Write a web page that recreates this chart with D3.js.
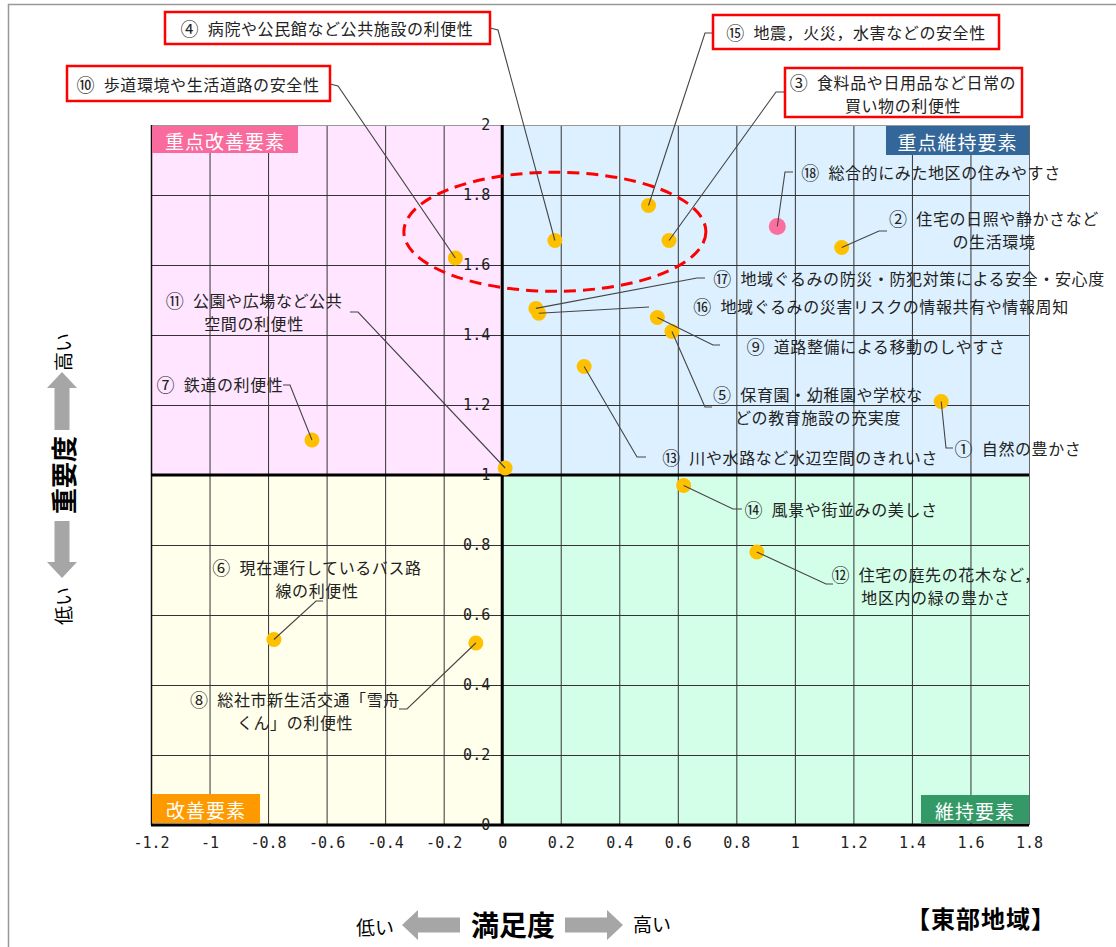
<!DOCTYPE html>
<meta charset="utf-8">
<style>
  body { margin: 0; background: #fff; }
  text { font-family: "Noto Sans CJK JP", sans-serif; }
  .tick text { font-family: "DejaVu Sans Mono", monospace; font-size: 15px; fill: #222; }
  .item-label { font-size: 16px; letter-spacing: 0.6px; fill: #222; }
  .item-label .no { font-size: 18px; }
  .leader { stroke: #444; stroke-width: 1.1px; fill: none; }
  .tag text { fill: #fff; font-size: 19px; letter-spacing: 1px; }
</style>

<script src="https://d3js.org/d3.v7.min.js"></script>

<div id="chart"></div>
<script>

// ---- data ----
const circled = ["①","②","③","④","⑤","⑥","⑦","⑧","⑨","⑩","⑪","⑫","⑬","⑭","⑮","⑯","⑰","⑱"];
const itemNames = [
  "自然の豊かさ",
  "住宅の日照や静かさなど\nの生活環境",
  "食料品や日用品など日常の\n買い物の利便性",
  "病院や公民館など公共施設の利便性",
  "保育園・幼稚園や学校な\nどの教育施設の充実度",
  "現在運行しているバス路\n線の利便性",
  "鉄道の利便性",
  "総社市新生活交通「雪舟\nくん」の利便性",
  "道路整備による移動のしやすさ",
  "歩道環境や生活道路の安全性",
  "公園や広場など公共\n空間の利便性",
  "住宅の庭先の花木など，\n地区内の緑の豊かさ",
  "川や水路など水辺空間のきれいさ",
  "風景や街並みの美しさ",
  "地震，火災，水害などの安全性",
  "地域ぐるみの災害リスクの情報共有や情報周知",
  "地域ぐるみの防災・防犯対策による安全・安心度",
  "総合的にみた地区の住みやすさ"
];
// 満足度 (x) and 重要度 (y)
const satisfaction = [1.50, 1.16, 0.57, 0.18, 0.58, -0.78, -0.65, -0.09, 0.53, -0.16, 0.01, 0.87, 0.28, 0.62, 0.50, 0.125, 0.115, 0.94];
const importance   = [1.21, 1.65, 1.67, 1.67, 1.41, 0.53, 1.10, 0.52, 1.45, 1.62, 1.02, 0.78, 1.31, 0.97, 1.77, 1.462, 1.476, 1.71];

const xTicks = [-1.2, -1, -0.8, -0.6, -0.4, -0.2, 0, 0.2, 0.4, 0.6, 0.8, 1, 1.2, 1.4, 1.6, 1.8];
const yTicks = [0, 0.2, 0.4, 0.6, 0.8, 1, 1.2, 1.4, 1.6, 1.8, 2];

const quadNames = ["重点改善要素", "重点維持要素", "改善要素", "維持要素"];
// highlighted group (ellipse): center and radii in data units
const highlight = { cx: 0.18, cy: 1.695, rx: 0.516, ry: 0.170 };

// ---- layout / style ----
const W = 1116, H = 947;
const quadFill = ["#FFE5FF", "#DCF0FF", "#FFFFEB", "#D3FFE8"];
const tagFill  = ["#F96B9C", "#336699", "#FF9900", "#339966"];
const lineGap = 23;

// label placement (pixels): center x, first line y, leader elbow/end, optional red box
const labelPos = [
  { x: 1018, y: 448, elbow: [946, 448], end: [953, 448] },
  { x: 994,  y: 218, elbow: [879, 231], end: [887, 231] },
  { x: 903,  y: 82,  elbow: [776, 92],  end: [785, 92],  box: [785, 68, 1022, 117] },
  { x: 327,  y: 28,  elbow: [498, 30],  end: [490, 28],  box: [165, 12, 490, 44] },
  { x: 818,  y: 394, elbow: [705, 407], end: [712, 407] },
  { x: 317,  y: 567, elbow: [316, 601], end: [323, 601] },
  { x: 220,  y: 384, elbow: [290, 385], end: [283, 385] },
  { x: 295,  y: 699, elbow: [407, 709], end: [399, 709] },
  { x: 876,  y: 346, elbow: [713, 345], end: [720, 345] },
  { x: 198,  y: 84,  elbow: [338, 86],  end: [330, 84],  box: [67, 66, 330, 101] },
  { x: 254,  y: 300, elbow: [358, 312], end: [350, 312] },
  { x: 936,  y: 574, elbow: [826, 584], end: [833, 584] },
  { x: 800,  y: 457, elbow: [637, 457], end: [646, 457] },
  { x: 841,  y: 509, elbow: [733, 509], end: [742, 509] },
  { x: 856,  y: 32,  elbow: [705, 33],  end: [713, 33],  box: [713, 15, 999, 49] },
  { x: 881,  y: 306, elbow: [649, 307], end: [649, 307] },
  { x: 909,  y: 278, elbow: [697, 278], end: [705, 278] },
  { x: 931,  y: 172, elbow: [785, 172], end: [793, 172] }
];

const svg = d3.select("#chart")
  .append("svg")
    .attr("width", W)
    .attr("height", H);

// outer frame
svg.append("rect")
  .attr("x", 8.5).attr("y", 4.5)
  .attr("width", 1200).attr("height", 1200)
  .attr("fill", "none")
  .attr("stroke", "#999")
  .attr("stroke-width", 1.5);

const x = d3.scaleLinear().domain([-1.2, 1.8]).range([151, 1029]);
const y = d3.scaleLinear().domain([0, 2]).range([825, 125]);

// quadrant backgrounds
const quads = [
  [-1.2, 0, 1, 2], [0, 1.8, 1, 2], [-1.2, 0, 0, 1], [0, 1.8, 0, 1]
];
svg.append("g")
  .selectAll("rect")
  .data(quads)
  .join("rect")
    .attr("x", d => x(d[0]))
    .attr("y", d => y(d[3]))
    .attr("width", d => x(d[1]) - x(d[0]))
    .attr("height", d => y(d[2]) - y(d[3]))
    .attr("fill", (d, i) => quadFill[i]);

// grid
const grid = svg.append("g").attr("stroke", "#333").attr("stroke-width", 1);
grid.selectAll(".vx")
  .data(xTicks.slice(1, -1))
  .join("line")
    .attr("x1", d => x(d) + 0.5).attr("x2", d => x(d) + 0.5)
    .attr("y1", y(2)).attr("y2", y(0));
grid.selectAll(".hy")
  .data(yTicks.slice(1, -1))
  .join("line")
    .attr("y1", d => y(d) + 0.5).attr("y2", d => y(d) + 0.5)
    .attr("x1", x(-1.2)).attr("x2", x(1.8));

// frame of the plot
svg.append("line").attr("x1", x(-1.2)).attr("x2", x(1.8)).attr("y1", y(2) + 0.5).attr("y2", y(2) + 0.5)
  .attr("stroke", "#999");
svg.append("line").attr("x1", x(1.8) + 0.5).attr("x2", x(1.8) + 0.5).attr("y1", y(2)).attr("y2", y(0))
  .attr("stroke", "#666");
svg.append("line").attr("x1", x(-1.2) + 0.5).attr("x2", x(-1.2) + 0.5).attr("y1", y(2)).attr("y2", y(0))
  .attr("stroke", "#111").attr("stroke-width", 1.5);
svg.append("line").attr("x1", x(-1.2)).attr("x2", x(1.8)).attr("y1", y(0)).attr("y2", y(0))
  .attr("stroke", "#000").attr("stroke-width", 3);
// centre cross
svg.append("line").attr("x1", x(0)).attr("x2", x(0)).attr("y1", y(2)).attr("y2", y(0))
  .attr("stroke", "#000").attr("stroke-width", 3);
svg.append("line").attr("x1", x(-1.2)).attr("x2", x(1.8)).attr("y1", y(1)).attr("y2", y(1))
  .attr("stroke", "#000").attr("stroke-width", 3);

// axes (labels only)
svg.append("g")
  .attr("transform", `translate(0,${y(0)})`)
  .call(d3.axisBottom(x).tickValues(xTicks).tickFormat(d => String(d)).tickSize(0).tickPadding(12))
  .call(g => g.select(".domain").remove());

svg.append("g")
  .attr("transform", `translate(${x(0)},0)`)
  .call(d3.axisLeft(y).tickValues(yTicks).tickFormat(d => String(d)).tickSize(0).tickPadding(12))
  .call(g => g.select(".domain").remove());

// quadrant tags
const tagBox = [
  { x: x(-1.2) + 1, y: y(2) + 1, w: 146, h: 27 },
  { x: x(1.8) - 143, y: y(2) + 1, w: 143, h: 29 },
  { x: x(-1.2) + 1, y: y(0) - 31, w: 108, h: 29 },
  { x: x(1.8) - 108, y: y(0) - 30, w: 108, h: 28 }
];
const tags = svg.append("g").attr("class", "tag")
  .selectAll("g")
  .data(quadNames)
  .join("g");
tags.append("rect")
  .attr("x", (d, i) => tagBox[i].x)
  .attr("y", (d, i) => tagBox[i].y)
  .attr("width", (d, i) => tagBox[i].w)
  .attr("height", (d, i) => tagBox[i].h)
  .attr("fill", (d, i) => tagFill[i]);
tags.append("text")
  .attr("x", (d, i) => tagBox[i].x + tagBox[i].w / 2)
  .attr("y", (d, i) => tagBox[i].y + tagBox[i].h / 2 + 1)
  .attr("text-anchor", "middle")
  .attr("dominant-baseline", "central")
  .text(d => d);

// highlight ellipse
svg.append("ellipse")
  .attr("cx", x(highlight.cx))
  .attr("cy", y(highlight.cy))
  .attr("rx", x(highlight.rx) - x(0))
  .attr("ry", y(0) - y(highlight.ry))
  .attr("fill", "none")
  .attr("stroke", "#FF0000")
  .attr("stroke-width", 3)
  .attr("stroke-dasharray", "12,7");

// points
const items = itemNames.map((name, i) => ({
  no: circled[i], name, sx: satisfaction[i], iy: importance[i], pos: labelPos[i], last: i === itemNames.length - 1
}));

svg.append("g")
  .selectAll("circle")
  .data(items)
  .join("circle")
    .attr("cx", d => x(d.sx))
    .attr("cy", d => y(d.iy))
    .attr("r", d => d.last ? 8.5 : 7.5)
    .attr("fill", d => d.last ? "#FB6E9E" : "#FFC000");

// leader lines
const line = d3.line();
svg.append("g")
  .selectAll("path")
  .data(items)
  .join("path")
    .attr("class", "leader")
    .attr("d", d => line([[x(d.sx), y(d.iy)], d.pos.elbow, d.pos.end]));

// red boxes
svg.append("g")
  .selectAll("rect")
  .data(items.filter(d => d.pos.box))
  .join("rect")
    .attr("x", d => d.pos.box[0])
    .attr("y", d => d.pos.box[1])
    .attr("width", d => d.pos.box[2] - d.pos.box[0])
    .attr("height", d => d.pos.box[3] - d.pos.box[1])
    .attr("fill", "#fff")
    .attr("stroke", "#FF0000")
    .attr("stroke-width", 2.5);

// item labels, one text per line (number only on the first line)
const labelLines = [];
items.forEach(d => {
  d.name.split("\n").forEach((t, k) => {
    labelLines.push({ no: k === 0 ? d.no : null, t, x: d.pos.x, y: d.pos.y + k * lineGap });
  });
});
const lt = svg.append("g")
  .selectAll("text")
  .data(labelLines)
  .join("text")
    .attr("class", "item-label")
    .attr("text-anchor", "middle")
    .attr("dominant-baseline", "central")
    .attr("x", d => d.x)
    .attr("y", d => d.y);
lt.filter(d => d.no).append("tspan").attr("class", "no").text(d => d.no);
lt.append("tspan").text(d => (d.no ? "\u2002" : "") + d.t);

// ---- axis titles ----
function arrow(g, len, head, shaft, headW) {
  // arrow pointing right from 0 to len, centred on 0
  g.append("path")
    .attr("d", `M0,${-shaft/2} L${len-head},${-shaft/2} L${len-head},${-headW/2} L${len},0 L${len-head},${headW/2} L${len-head},${shaft/2} L0,${shaft/2} Z`)
    .attr("fill", "#A6A6A6");
}

// x title
arrow(svg.append("g").attr("transform", "translate(460,925) scale(-1,1)"), 58, 16, 15, 30);
arrow(svg.append("g").attr("transform", "translate(565,925)"), 58, 16, 15, 30);
svg.append("text").attr("x", 513).attr("y", 924).attr("text-anchor", "middle").attr("dominant-baseline", "central")
  .style("font-size", "28px").style("font-weight", "bold").text("満足度");
svg.append("text").attr("x", 375).attr("y", 926).attr("text-anchor", "middle").attr("dominant-baseline", "central")
  .style("font-size", "19px").text("低い");
svg.append("text").attr("x", 652).attr("y", 923).attr("text-anchor", "middle").attr("dominant-baseline", "central")
  .style("font-size", "19px").text("高い");

// y title (rotated)
arrow(svg.append("g").attr("transform", "translate(62,430) rotate(-90)"), 58, 16, 15, 30);
arrow(svg.append("g").attr("transform", "translate(62,521) rotate(90)"), 57, 16, 15, 30);
svg.append("text").attr("transform", "translate(62,475) rotate(-90)").attr("text-anchor", "middle").attr("dominant-baseline", "central")
  .style("font-size", "26px").style("font-weight", "bold").text("重要度");
svg.append("text").attr("transform", "translate(62,352) rotate(-90)").attr("text-anchor", "middle").attr("dominant-baseline", "central")
  .style("font-size", "19px").text("高い");
svg.append("text").attr("transform", "translate(62,606) rotate(-90)").attr("text-anchor", "middle").attr("dominant-baseline", "central")
  .style("font-size", "19px").text("低い");

// region name
svg.append("text").attr("x", 981).attr("y", 917).attr("text-anchor", "middle").attr("dominant-baseline", "central")
  .style("font-size", "24px").style("font-weight", "bold").style("letter-spacing", "1px").text("【東部地域】");

</script>
</html>
